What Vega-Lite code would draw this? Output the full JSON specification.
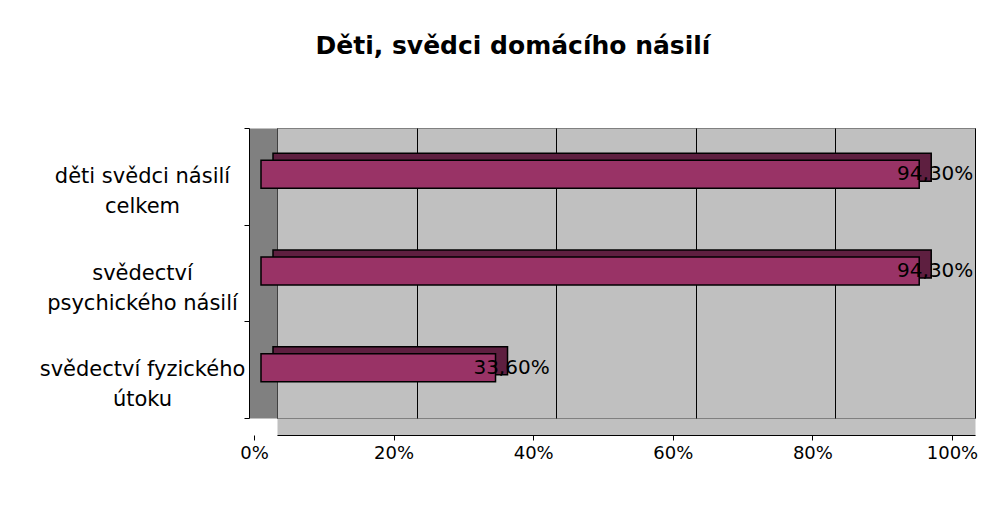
{
  "$schema": "https://vega.github.io/schema/vega-lite/v6.json",
  "autosize": "none",
  "width": 698,
  "height": 290,
  "padding": {"left": 277, "top": 128, "right": 29, "bottom": 101},
  "background": "white",
  "title": {
    "text": "Děti, svědci domácího násilí",
    "font": "DejaVu Sans",
    "fontSize": 25,
    "fontWeight": "bold",
    "color": "black",
    "anchor": "middle",
    "frame": "group",
    "baseline": "alphabetic",
    "dx": -113,
    "offset": 38
  },
  "config": {
    "locale": {"number": {"decimal": ",", "thousands": " ", "grouping": [3], "currency": ["", " Kč"]}},
    "view": {"fill": "#c0c0c0", "stroke": "#808080", "strokeWidth": 1},
    "font": "DejaVu Sans"
  },
  "data": {
    "values": [
      {"kategorie": "děti svědci násilí\ncelkem", "podil": 0.943},
      {"kategorie": "svědectví\npsychického násilí", "podil": 0.943},
      {"kategorie": "svědectví fyzického\nútoku", "podil": 0.336}
    ]
  },
  "layer": [
    {
      "mark": {"type": "bar", "size": 28, "xOffset": -4, "yOffset": -9, "color": "#5e1f40", "stroke": "black", "strokeWidth": 1.5},
      "encoding": {
        "y": {
          "field": "kategorie", "type": "nominal", "sort": null,
          "scale": {"paddingInner": 0, "paddingOuter": 0},
          "axis": {"orient": "left", "offset": 14, "domainWidth": 28, "domainColor": "#808080", "ticks": false, "labels": false, "grid": false, "title": null}
        },
        "x": {
          "field": "podil", "type": "quantitative",
          "scale": {"domain": [0, 1]},
          "axis": {"orient": "bottom", "offset": 9, "domainWidth": 17, "domainColor": "#c0c0c0", "ticks": false, "labels": false, "values": [0, 0.2, 0.4, 0.6, 0.8, 1], "grid": true, "gridColor": "black", "gridWidth": 1, "gridOpacity": 1, "title": null}
        }
      }
    },
    {
      "mark": {"type": "bar", "size": 28, "xOffset": -16, "yOffset": -2, "color": "#993366", "stroke": "black", "strokeWidth": 1.5},
      "encoding": {
        "y": {
          "field": "kategorie", "type": "nominal", "sort": null,
          "axis": {
            "orient": "left", "offset": 28, "domainColor": "black", "tickColor": "black", "tickSize": 5,
            "tickBand": "extent", "tickOffset": 17, "grid": false, "title": null,
            "labelFont": "DejaVu Sans", "labelFontSize": 21, "labelColor": "black", "labelLimit": 400,
            "labelAlign": "center", "labelBaseline": "middle", "labelPadding": 102, "labelLineHeight": 30,
            "labelExpr": "datum.value ? split(datum.value, '\\n') : ''"
          }
        },
        "x": {
          "field": "podil", "type": "quantitative",
          "axis": {
            "orient": "bottom", "offset": 17, "values": [0, 0.2, 0.4, 0.6, 0.8, 1], "format": ".0%",
            "domainColor": "black", "tickColor": "black", "tickSize": 5, "tickOffset": -23, "grid": false, "title": null,
            "labelFont": "DejaVu Sans", "labelFontSize": 18, "labelColor": "black", "labelPadding": 4, "labelFlush": false
          }
        }
      }
    },
    {
      "mark": {"type": "text", "align": "center", "baseline": "middle", "yOffset": -2, "font": "DejaVu Sans", "fontSize": 20, "color": "black"},
      "encoding": {
        "y": {"field": "kategorie", "type": "nominal", "sort": null, "axis": null},
        "x": {"field": "podil", "type": "quantitative", "axis": null},
        "text": {"field": "podil", "type": "quantitative", "format": ".2%"}
      }
    }
  ],
  "resolve": {"axis": {"x": "independent", "y": "independent"}}
}
